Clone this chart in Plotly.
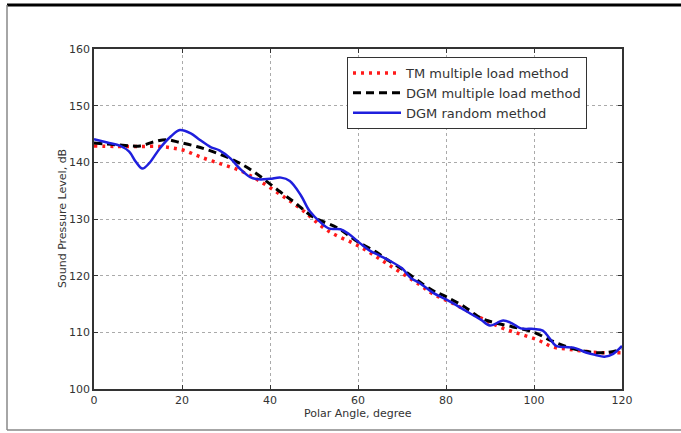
import plotly.graph_objects as go

# ---- data ----
tm_x = [0, 5, 10, 15, 18, 20.5, 24, 28.5, 33, 37, 42, 47, 53, 60.5, 67, 74, 77, 81.6, 88, 93, 100.7, 104.4, 108, 112, 116, 120]
tm_y = [142.9, 142.8, 142.8, 142.8, 142.5, 142.1, 141.0, 139.8, 138.6, 137.0, 134.5, 131.8, 128.0, 125.1, 121.9, 118.4, 116.8, 115.1, 112.5, 110.7, 108.7, 107.4, 107.0, 106.6, 106.4, 106.4]

dgm_x = [0, 5, 10.5, 13.5, 16.5, 19.5, 23.3, 27, 31.7, 36, 42.3, 45.8, 49.7, 55.4, 59.3, 64.5, 66.5, 70.3, 76.7, 80, 84, 88, 91, 95, 100, 104, 108, 112, 116, 120]
dgm_y = [143.4, 143.1, 142.9, 143.6, 144.0, 143.5, 142.8, 141.9, 140.4, 138.5, 134.8, 132.8, 130.4, 128.4, 126.3, 124.0, 122.9, 121.0, 117.5, 116.3, 114.6, 112.5, 111.7, 111.0, 110.0, 108.5, 107.3, 106.6, 106.4, 107.0]

rnd_x = [0, 3, 6, 8, 9.5, 11, 12.5, 15, 17.5, 19.5, 22, 24, 26.5, 28.5, 31, 33, 35.5, 37.5, 40, 42.5, 44.5, 47, 49, 51.5, 53.5, 56, 58, 60.5, 62.5, 65, 67.5, 70, 72, 74, 77, 80, 83, 86, 88, 90, 93, 95, 97, 100, 102, 103.5, 105, 107, 109, 112, 114, 116, 118, 120]
rnd_y = [144.1, 143.5, 142.9, 141.9, 140.1, 138.9, 139.8, 142.5, 144.6, 145.7, 145.1, 144.0, 142.7, 142.1, 140.7, 139.0, 137.4, 137.0, 137.1, 137.3, 136.7, 134.2, 131.4, 129.4, 128.3, 128.2, 127.3, 125.7, 124.5, 123.5, 122.5, 121.3, 119.6, 118.7, 117.0, 115.8, 114.5, 113.1, 112.2, 111.2, 112.1, 111.6, 110.7, 110.6, 110.3, 109.0, 107.6, 107.4, 107.3, 106.4, 106.0, 105.7, 106.2, 107.6]

x_ticks = [0, 20, 40, 60, 80, 100, 120]
y_ticks = [100, 110, 120, 130, 140, 150, 160]

FONT = "DejaVu Sans"
TXT = "#333333"

fig = go.Figure()
fig.add_trace(go.Scatter(x=tm_x, y=tm_y, mode="lines", name="TM multiple load method",
                         line=dict(color="#ff1a1a", width=3.5, dash="3px,5px", shape="spline")))
fig.add_trace(go.Scatter(x=dgm_x, y=dgm_y, mode="lines", name="DGM multiple load method",
                         line=dict(color="black", width=3, dash="8px,5px", shape="spline")))
fig.add_trace(go.Scatter(x=rnd_x, y=rnd_y, mode="lines", name="DGM random method",
                         line=dict(color="#1f1fdd", width=2.5, shape="spline")))

# outer frame (paper coords)
W, H = 681, 433
L, R, T, B = 94, 622, 49, 389
def px(xp):
    return (xp - L) / (R - L)
def py(yp):
    return (B - yp) / (B - T)

shapes = [
    dict(type="line", xref="paper", yref="paper", x0=px(7), x1=px(681), y0=py(5), y1=py(5),
         line=dict(color="black", width=3)),
    dict(type="line", xref="paper", yref="paper", x0=px(7), x1=px(7), y0=py(5), y1=py(430),
         line=dict(color="#888888", width=1.5)),
    dict(type="line", xref="paper", yref="paper", x0=px(7), x1=px(681), y0=py(430), y1=py(430),
         line=dict(color="#888888", width=1.5)),
]

annotations = [
    dict(text="Polar Angle, degree", xref="paper", yref="paper", x=px(358), y=py(413),
         showarrow=False, font=dict(family=FONT, size=11, color=TXT), xanchor="center", yanchor="middle"),
    dict(text="Sound Pressure Level, dB", xref="paper", yref="paper", x=px(62), y=py(219),
         showarrow=False, textangle=-90, font=dict(family=FONT, size=11, color=TXT),
         xanchor="center", yanchor="middle"),
]

fig.update_layout(
    width=W, height=H,
    margin=dict(l=L, r=W - R, t=T, b=H - B),
    paper_bgcolor="white", plot_bgcolor="white",
    font=dict(family=FONT, size=11, color=TXT),
    showlegend=True,
    legend=dict(x=px(347), y=py(57), xanchor="left", yanchor="top",
                bordercolor="#333333", borderwidth=1, bgcolor="white",
                font=dict(family=FONT, size=13, color=TXT),
                tracegroupgap=0, itemwidth=48),
    shapes=shapes,
    annotations=annotations,
)
fig.update_xaxes(range=[0, 120], tickvals=x_ticks, ticktext=[str(v) for v in x_ticks],
                 showgrid=True, gridcolor="#aaaaaa", griddash="dot", gridwidth=1,
                 showline=True, linecolor="#333333", linewidth=1.5, mirror="ticks",
                 ticks="inside", ticklen=4, tickcolor="#333333", zeroline=False,
                 tickfont=dict(family=FONT, size=11, color=TXT))
fig.update_yaxes(range=[100, 160], tickvals=y_ticks, ticktext=[str(v) for v in y_ticks],
                 showgrid=True, gridcolor="#aaaaaa", griddash="dot", gridwidth=1,
                 showline=True, linecolor="#333333", linewidth=1.5, mirror="ticks",
                 ticks="inside", ticklen=4, tickcolor="#333333", zeroline=False,
                 tickfont=dict(family=FONT, size=11, color=TXT))

fig.write_html("out.html")
